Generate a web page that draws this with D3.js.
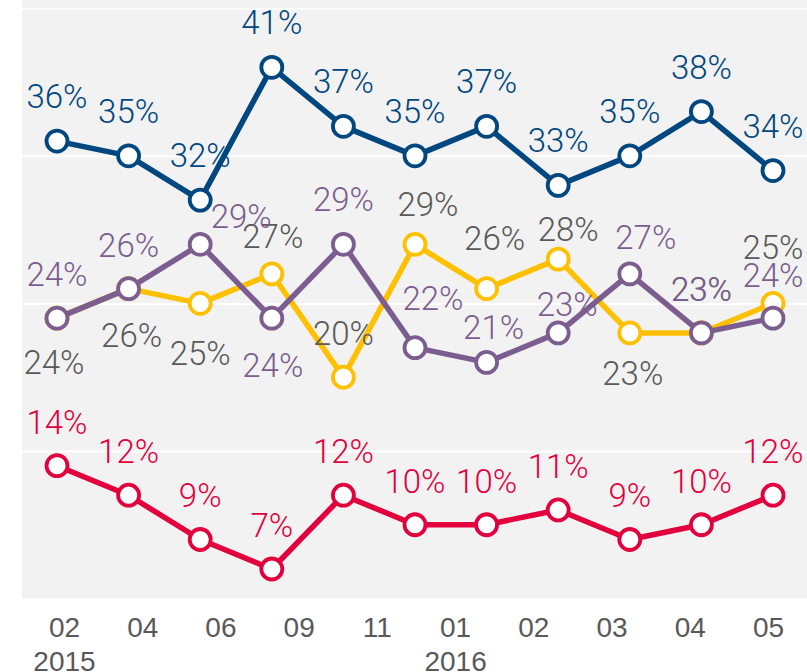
<!DOCTYPE html>
<html>
<head>
<meta charset="utf-8">
<script src="https://cdn.jsdelivr.net/npm/d3@7/dist/d3.min.js"></script>
<style>
  html, body { margin: 0; padding: 0; background: #ffffff; }
  svg { display: block; font-family: Roboto, "Open Sans", "DejaVu Sans", sans-serif; font-weight: 300; }
</style>
</head>
<body>
<svg id="chart" width="807" height="672"></svg>
<script>
// ---- data ----
const waves = ["W1","W2","W3","W4","W5","W6","W7","W8","W9","W10","W11"];
const monthLabels = ["02","04","06","09","11","01","02","03","04","05"];
const yearLabels  = ["2015","","","","","2016","","","",""];
const seriesBlue   = [36,35,32,41,37,35,37,33,35,38,34];
const seriesPurple = [24,26,29,24,29,22,21,23,27,23,24];
const seriesYellow = [24,26,25,27,20,29,26,28,23,23,25];
const seriesRed    = [14,12,9,7,12,10,10,11,9,10,12];
const gridValues   = [15,25,35,45];

// ---- label placement (dx, dy of text baseline relative to point) ----
const placeBlue   = waves.map(() => [0,-33]);
const placeRed    = waves.map(() => [0,-32]);
const placePurple = [[0,-32],[0,-32],[41,-16],[1,59],[0,-33],[18,-38],[7,-23],[9,-17],[16,-25],[0,-32],[0,-31]];
const placeYellow = [[-3,56],[3,58],[0,62],[1,-26],[0,-32],[13,-28],[8,-39],[10,-18],[3,52],[0,-32],[0,-44]];

const plot = {left: 22, right: 807, top: 0, bottom: 598.5};

const svg = d3.select("#chart");

const x = d3.scalePoint().domain(waves).range([57, 773]);
const xTick = d3.scalePoint().domain(monthLabels.map((m,i)=>i)).range([64, 768]);
const y = d3.scaleLinear().domain([5, 45]).range([598.5, 8.3]);

// background
svg.append("rect")
  .attr("x", plot.left).attr("y", plot.top)
  .attr("width", plot.right - plot.left).attr("height", plot.bottom - plot.top)
  .attr("fill", "#f2f2f2");

// gridlines
const grid = svg.append("g")
  .attr("transform", `translate(${plot.left},0)`)
  .call(d3.axisLeft(y).tickValues(gridValues).tickSize(-(plot.right - plot.left)).tickFormat(""));
grid.select(".domain").remove();
grid.selectAll(".tick line").attr("stroke", "#ffffff").attr("stroke-width", 2);

// x axis
const xa = svg.append("g")
  .attr("transform", `translate(0,${plot.bottom})`)
  .call(d3.axisBottom(xTick).tickSize(0).tickPadding(0).tickFormat(i => monthLabels[i]));
xa.select(".domain").remove();
xa.selectAll(".tick text").remove();
xa.selectAll(".tick").each(function(i) {
  const g = d3.select(this);
  g.append("text")
    .attr("y", 38.5)
    .attr("text-anchor", "middle")
    .attr("fill", "#595959")
    .attr("font-size", 28)
    .text(monthLabels[i]);
  if (yearLabels[i]) {
    g.append("text")
      .attr("y", 72)
      .attr("text-anchor", "middle")
      .attr("fill", "#595959")
      .attr("font-size", 28)
      .text(yearLabels[i]);
  }
});

const series = [
  {values: seriesYellow, color: "#ffc000", label: "#595959", place: placeYellow},
  {values: seriesPurple, color: "#7b5e8f", label: "#7b5e8f", place: placePurple},
  {values: seriesBlue,   color: "#00467f", label: "#00467f", place: placeBlue},
  {values: seriesRed,    color: "#e2003d", label: "#e2003d", place: placeRed}
];

const line = d3.line().x((d,i) => x(waves[i])).y(d => y(d));

series.forEach(s => {
  const g = svg.append("g");
  g.append("path")
    .datum(s.values)
    .attr("d", line)
    .attr("fill", "none")
    .attr("stroke", s.color)
    .attr("stroke-width", 5.5)
    .attr("stroke-linejoin", "round");
  g.selectAll("circle")
    .data(s.values)
    .join("circle")
    .attr("cx", (d,i) => x(waves[i]))
    .attr("cy", d => y(d))
    .attr("r", 10.5)
    .attr("fill", "#ffffff")
    .attr("stroke", s.color)
    .attr("stroke-width", 3.8);
});

series.forEach(s => {
  svg.append("g").selectAll("text")
    .data(s.values)
    .join("text")
    .attr("x", (d,i) => x(waves[i]) + s.place[i][0])
    .attr("y", (d,i) => y(d) + s.place[i][1])
    .attr("text-anchor", "middle")
    .attr("fill", s.label)
    .attr("font-size", 33)
    .text(d => d + "%");
});
</script>
</body>
</html>
